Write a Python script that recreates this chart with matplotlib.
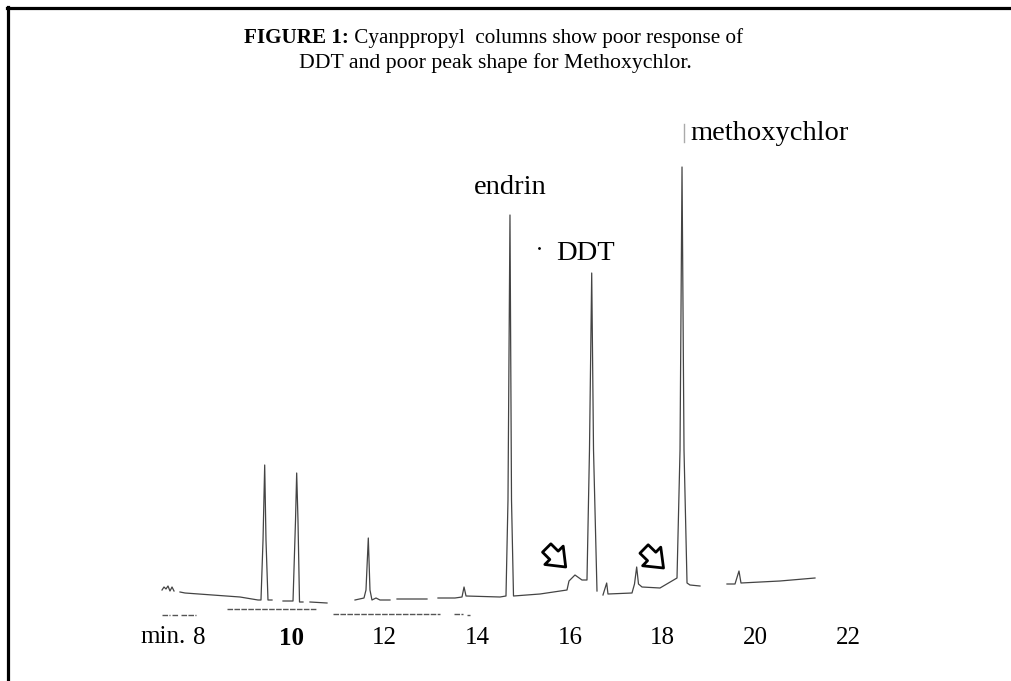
import matplotlib
matplotlib.use("Agg")
import matplotlib.pyplot as plt
from matplotlib.lines import Line2D
import numpy as np

# [1. data]
# retention time (min) and detector signal (arbitrary units above baseline)
# nan = gap in the scanned trace
trace_time = [7.202, 7.245, 7.288, 7.331, 7.374, 7.418, 7.461, np.nan,
              7.590, 7.698, 8.884, 9.273, 9.337, 9.381, 9.417, 9.445, 9.488, 9.575, np.nan,
              9.812, 10.028, 10.082, 10.107, 10.135, 10.168, 10.243, np.nan,
              10.394, 10.761, np.nan,
              11.365, 11.559, 11.602, 11.652, 11.688, 11.731, 11.818, 11.904, 12.120, np.nan,
              12.271, 12.918, np.nan,
              13.155, 13.522, 13.673, 13.717, 13.760, 14.493, 14.622, 14.665, 14.708, 14.741, 14.784,
              15.356, 15.938, 15.981, 16.110, 16.261, 16.369, 16.423, 16.471, 16.510, 16.585, np.nan,
              16.714, 16.794, 16.822, 17.340, 17.394, 17.441, 17.480, 17.556, 17.944, 18.311,
              18.376, 18.419, 18.462, 18.527, 18.591, 18.807, np.nan,
              19.389, 19.562, 19.648, 19.691, 20.532, 21.287]
trace_signal = [10, 13, 11, 14, 9, 13, 9, np.nan,
                8, 7, 3, 0, 0, 60, 135, 60, 0, 0, np.nan,
                -1, -1, 80, 127, 80, -2, -2, np.nan,
                -2, -3, np.nan,
                0, 2, 10, 62, 10, 0, 2, 0, 0, np.nan,
                1, 1, np.nan,
                2, 2, 3, 13, 4, 3, 4, 100, 385, 100, 4,
                6, 10, 19, 25, 20, 20, 150, 327, 150, 9, np.nan,
                5, 17, 6, 7, 16, 33, 16, 13, 12, 22,
                150, 433, 150, 17, 15, 14, np.nan,
                16, 16, 29, 17, 19, 22]

# broken time-ruler fragments under the trace
ruler_start = [7.202, 7.418, 7.612, 8.604, 10.890, 13.490, 13.781]
ruler_end = [7.375, 7.547, 7.936, 10.545, 13.198, 13.695, 13.846]
ruler_level = [-15, -15, -15, -9, -14, -14, -15]

tick_min = [8, 10, 12, 14, 16, 18, 20, 22]
tick_labels = ["8", "10", "12", "14", "16", "18", "20", "22"]

peak_names = ["endrin", "DDT", "methoxychlor"]
name_time = [14.708, 16.33, 18.59]
name_signal = [413, 347, 466]

arrow_tail = [(15.50, 52), (17.60, 51)]
arrow_head = [(15.91, 33), (18.02, 32)]

serif = ["Liberation Serif", "DejaVu Serif"]

# [2. figure]
fig = plt.figure(figsize=(10.11, 6.81), dpi=100)
ax = fig.add_axes([150 / 1011, 61 / 681, 720 / 1011, 510 / 681])
ax.set_xlim(6.943, 22.474)
ax.set_ylim(-20, 490)
for s in ax.spines.values():
    s.set_visible(False)
ax.set_yticks([])

ax.plot(trace_time, trace_signal, color="#444444", lw=0.9)
for a, b, lvl in zip(ruler_start, ruler_end, ruler_level):
    ax.plot([a, b], [lvl, lvl], color="#555555", lw=1.0, ls=(0, (4, 1)))

ax.set_xticks(tick_min)
ax.set_xticklabels(tick_labels, family=serif, fontsize=18)
ax.tick_params(axis="x", length=0, pad=5)
ax.get_xticklabels()[1].set_fontweight("bold")
ax.text(7.72, -0.012, "min.", transform=ax.get_xaxis_transform(), family=serif,
        fontsize=18, ha="right", va="top")

for name, t, s in zip(peak_names, name_time, name_signal):
    ha = "left" if name == "methoxychlor" else "center"
    ax.text(t, s, name, family=serif, fontsize=20.5, ha=ha, va="center")

# small scan specks near the labels
ax.plot([18.462, 18.462], [458, 476], color="#aaaaaa", lw=1)
ax.plot([15.334], [352], marker=".", color="black", ms=2)

for tail, head in zip(arrow_tail, arrow_head):
    ax.annotate("", xy=head, xytext=tail,
                arrowprops=dict(arrowstyle="simple,head_width=1.1,head_length=0.7,tail_width=0.5",
                                fc="white", ec="black", lw=2, mutation_scale=17,
                                shrinkA=0, shrinkB=0))

# title, line 1 is bold + regular, centred together
fig.canvas.draw()
r = fig.canvas.get_renderer()
y1 = 1 - 38 / 681
t1 = fig.text(0, y1, "FIGURE 1:", family=serif, fontsize=15.2,
              fontweight="bold", ha="left", va="center")
t2 = fig.text(0, y1, " Cyanppropyl  columns show poor response of",
              family=serif, fontsize=15.2, ha="left", va="center")
w1 = t1.get_window_extent(r).width
w2 = t2.get_window_extent(r).width
x0 = 494 - (w1 + w2) / 2
t1.set_x(x0 / 1011)
t2.set_x((x0 + w1) / 1011)
fig.text(495 / 1011, 1 - 63 / 681, "DDT and poor peak shape for Methoxychlor.",
         family=serif, fontsize=15.7, ha="center", va="center")

# page border
fig.add_artist(Line2D([7 / 1011, 1], [1 - 8 / 681, 1 - 8 / 681], color="black", lw=2.3))
fig.add_artist(Line2D([8 / 1011, 8 / 1011], [0, 1 - 7 / 681], color="black", lw=2.3))

fig.savefig("out.png", dpi=100)
